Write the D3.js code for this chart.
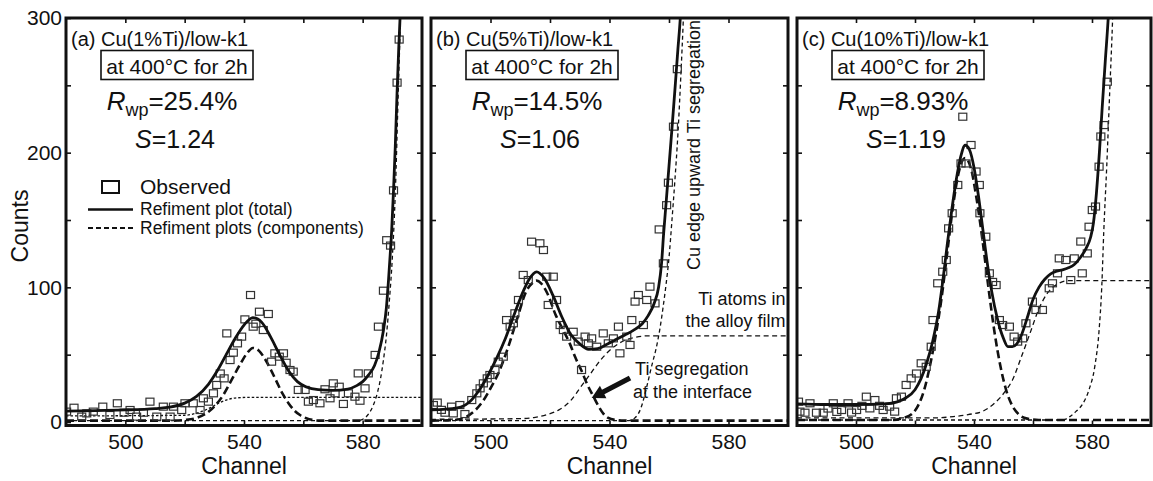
<!DOCTYPE html>
<html><head><meta charset="utf-8">
<script src="https://cdn.jsdelivr.net/npm/d3@7"></script>
<style>
body{margin:0;background:#fff}
svg{display:block}
text{font-family:"Liberation Sans",Arial,Helvetica,sans-serif;fill:#111}
</style>
</head><body>
<svg id="chart" width="1153" height="481"></svg>
<script>
// ---------------- data ----------------
const panelTitles = ["(a) Cu(1%Ti)/low-k1", "(b) Cu(5%Ti)/low-k1", "(c) Cu(10%Ti)/low-k1"];
const conditionLabel = "at 400°C for 2h";
const rwpValues = ["25.4%", "14.5%", "8.93%"];
const sValues = ["1.24", "1.06", "1.19"];
const xTickValues = [500, 520, 540, 560, 580];
const xTickLabels = [500, 540, 580];
const yTickValues = [50, 100, 150, 200, 250];
const yTickLabels = [0, 100, 200, 300];
const legendLabels = ["Observed", "Refiment plot (total)", "Refiment plots (components)"];

// panel (a)
const observedA = [[480.2,7.7],[482.7,10.6],[485.3,4],[487,6.4],[489.2,7.7],[492.4,11.4],[494.8,5.2],[497.3,13.9],[499.6,6.9],[501.6,8.9],[503.8,4],[506.1,6.9],[508.3,15.1],[510.6,4],[512.8,11.4],[515.1,4],[516.2,11.4],[519,8.9],[520.1,13.9],[522.9,13.9],[525.2,8.9],[526.3,17.6],[528,15.1],[529.7,21.3],[530.8,27.5],[532,36],[533.3,32.4],[534.2,65.8],[535.3,46],[536.4,51.5],[537.8,58.4],[539.2,63.4],[540.3,76.2],[542.2,94.3],[543.1,70.8],[544,73],[545.2,81.9],[546.5,68.3],[548.2,80.2],[549.3,44.8],[550.4,51],[551.9,48.5],[553.3,51],[554.2,44],[555.5,38.6],[556.6,37.4],[558.3,23.8],[560.6,23.8],[561.7,15.1],[563.4,16.3],[565.6,13.9],[567.3,24.3],[569,17.6],[570.1,28.7],[570.7,21.3],[572.1,26.2],[573.5,13.4],[575.2,21.3],[577.4,18.8],[578.5,36.1],[579.1,15.8],[580.8,25],[581.9,36.1],[584.2,49.8],[585.3,70.8],[587,97.5],[588.1,135],[589.4,131],[590.4,172],[591.6,252],[592.3,284]];
const totalA = [[480,8],[490,8.5],[500,9],[510,10],[515,11],[520,14],[524,19],[528,28],[531,38],[534,50],[537,62],[540,72],[543,77.5],[546,74],[549,63],[552,50],[555,38],[558,30],[561,26],[565,24],[570,23.5],[575,24.5],[578,27],[580,30],[582,35],[584,42],[585.5,52],[587,68],[588,85],[588.7,105],[589.3,125],[589.8,143],[590.4,172],[591,205],[591.6,245],[592.2,280],[592.7,305],[593,325]];
const peakA = [[480,1],[516,1],[520,1.5],[524,3],[527,6],[530,11.5],[533,20],[536,32],[539,44],[541,51],[543,55],[545,53],[547,47],[549,39],[551,30],[553,21],[555,14],[557,8.5],[559,5],[561,2.8],[563,1.6],[566,1],[600,1]];
const stepA = [[480,4.5],[520,5],[523,6],[526,8],[529,11],[532,14.5],[535,17],[538,18],[542,18.3],[600,18.3]];
const edgeA = [[480,1],[578,1],[580,2],[582,6],[583.5,12],[585,22],[586,32],[587,46],[588,64],[589,90],[590,122],[591,170],[592,245],[592.6,290],[593,325]];

// panel (b)
const observedB = [[480.8,12.6],[482.1,14.4],[483.5,9],[484.7,6.9],[486.9,11.4],[487.5,6.4],[489.7,12.6],[491.4,5.9],[493.7,16.3],[495.4,21.3],[496.5,25],[497.6,28.7],[498.9,32.4],[499.8,34.9],[501.5,38.6],[502.6,44.8],[504.3,48.5],[505.4,75.7],[506.6,70.8],[507.7,73.3],[508.2,80.7],[509.4,90.6],[511,109.2],[512.7,105.4],[513.8,133.9],[516.6,132.7],[517.8,127.7],[518.9,107.9],[521.1,107.9],[519.4,86.9],[522.2,90.6],[523.4,72],[524.5,68.3],[525.6,63.4],[527.8,67],[529.5,59.7],[530.6,38.6],[531.8,63.4],[532.9,58.4],[534,62.1],[535.7,55.9],[537.9,65.8],[539.6,58.4],[541.3,62.1],[543,70.8],[543.5,51],[545.8,63.4],[546.9,57.2],[547.5,75.7],[548.6,89.4],[549.7,94.3],[551.4,72],[552.5,90.6],[553.6,100.5],[555.3,88.1],[556.7,143],[558.1,117.8],[559.2,161],[559.8,177.7],[561.5,219.3],[562.8,262]];
const totalB = [[480,9],[485,9.5],[490,11],[493,15],[496,23],[499,34],[502,47],[505,62],[508,80],[511,97],[513,106],[515.5,111.5],[518,107],[521,94],[524,78],[527,65],[530,58],[533,54],[536,54.5],[539,57.5],[542,61],[545,64.5],[548,68],[551,73],[553,79],[555,88],[556.5,100],[557.5,118],[558.2,140],[559,162],[560,190],[561,218],[562,247],[563,277],[563.8,300],[564.3,320]];
const peakB = [[480,1],[488,1.5],[492,4],[495,9],[497.6,16],[500,25],[503,38],[506,56],[509,77],[512,97],[514,103],[515.5,105],[517,103],[519,96],[522,79],[524.5,68],[526.7,58],[528.5,48],[530.6,38],[532.5,28],[534.6,19],[536.5,11],[538,6],[539.6,3],[542,1.5],[545,1],[600,1]];
const stepB = [[480,2],[510,2.5],[515,3.5],[519,5.5],[523,9],[527,16],[530,25],[533,34],[537,46],[541,55],[545,60.5],[549,63],[553,64],[600,64]];
const edgeB = [[480,1],[546,1],[548.5,3],[550.5,10],[552.5,26],[554,40],[556,58],[557,70],[558,85],[559,102],[560,122],[561,150],[562,180],[563,214],[564,258],[564.8,298],[565.2,320]];

// panel (c)
const observedC = [[480.5,15.1],[481,7.7],[482.7,6.9],[484.4,13.9],[486.6,6.9],[488.9,6.9],[490.5,10],[492.3,13.9],[493.5,7.5],[495.1,8.9],[497.3,13.9],[498.5,7],[500.2,8.9],[502,12],[503.5,18.8],[504.7,10.1],[506.4,16.3],[508,12],[509.2,8.9],[511.4,11.4],[513.1,7.7],[513.7,17.6],[515.4,18.8],[517,27.5],[518.7,32.4],[520.5,36],[522.1,43.6],[523.8,41],[525.5,55.9],[526.1,75.7],[527.7,103],[529.4,111.6],[530.6,120.3],[531.4,143.8],[532.6,155],[534.5,176],[535.6,192],[536.2,226.7],[537.3,192],[539,205.7],[540.7,186],[541.8,176],[542,155],[544,137.6],[545.2,110.4],[546.3,104],[547.5,101.7],[548.6,75.7],[549.7,72],[552,70.8],[553.6,63.4],[554.8,59.7],[556.5,62.1],[557.6,73.3],[559.8,89.4],[561,83.2],[563.2,83.2],[565.5,99.3],[566.6,103],[568.3,110.4],[568.9,121.5],[571.1,120.3],[572.8,105.4],[574,121.5],[576.7,110.4],[576.2,134],[578.4,125.2],[579,145],[580.1,157.4],[581.2,160],[582.4,189.6],[583,212],[584.1,220.5],[585.2,252.7]];
const totalC = [[480,13.5],[490,13],[500,13],[510,13.5],[514,15],[517,18],[520,24],[522,32],[524,44],[526,60],[528,82],[529.5,106],[531,133],[532.5,158],[534,180],[535.5,197],[537,205.5],[538.5,202],[540,189],[541.5,168],[543,143],[544.5,118],[546,97],[548,76],[550,62],[551.5,56],[553,56],[554.5,58],[556,64],[558,77],[560,91],[562,100],[564,106],[566,110],[568,112],[570,113],[572,114.5],[574,117],[576,122],[578,129],[579.5,137],[580.5,148],[581.5,170],[582.5,200],[583.5,235],[584.5,268],[585.5,300],[586,320]];
const peakC = [[480,1.5],[512,1.5],[516,3],[519,6],[521,12],[523,23],[525,41],[527,64],[529,92],[531,127],[533,162],[535,187],[537,196],[539,188],[541,164],[543,133],[545,98],[547,66],[549,41],[551,23],[553,12],[555,6],[558,2.5],[562,1.5],[600,1.5]];
const stepC = [[480,3],[525,3],[533,4],[538,5.5],[543,8],[547,14],[551,24],[553,31],[556,48],[559,66],[562,84],[565,96],[568,102],[572,105],[600,105]];
const edgeC = [[480,1.5],[570,1.5],[572.5,4],[574.5,7.7],[577,14],[579,24],[581,42],[582.4,68],[583.3,100],[584,142],[585,190],[586,245],[587,300],[587.3,320]];

const observedSets = [observedA, observedB, observedC];
const totalSets = [totalA, totalB, totalC];
const peakSets = [peakA, peakB, peakC];
const stepSets = [stepA, stepB, stepC];
const edgeSets = [edgeA, edgeB, edgeC];

// annotations of panel (b), in data units
const arrowB = {from: [546.9, 32.7], to: [534, 17.8]};
const annotB = [
  {t: "Ti atoms in", ch: 599.2, v: 86.6, anchor: "end"},
  {t: "the alloy film", ch: 599.2, v: 70.3, anchor: "end"},
  {t: "Ti segregation", ch: 548.6, v: 34.9, anchor: "start"},
  {t: "at the interface", ch: 547.9, v: 17.8, anchor: "start"}
];
const vertAnnot = {t: "Cu edge upward Ti segregation", ch: 570.3, v: 112.8};

// ---------------- layout ----------------
const svg = d3.select("#chart");
const panelPx = [[66, 422], [431, 788], [797, 1151]];
const yTop = 18, yBot = 425.5;
const y = d3.scaleLinear().domain([-2.6, 300]).range([yBot, yTop]);
const ink = "#111";

svg.append("text").attr("transform", "translate(28,226) rotate(-90)")
  .attr("text-anchor", "middle").style("font-size", "23px").text("Counts");

panelPx.forEach((px, i) => {
  const x = d3.scaleLinear().domain([480, 600]).range(px);
  const g = svg.append("g");
  const clipId = "clip" + i;
  svg.append("clipPath").attr("id", clipId).append("rect")
    .attr("x", px[0]).attr("y", yTop).attr("width", px[1] - px[0]).attr("height", yBot - yTop);
  const plot = g.append("g").attr("clip-path", `url(#${clipId})`);
  const line = d3.line().x(d => x(d[0])).y(d => y(d[1])).curve(d3.curveMonotoneX);

  // components
  plot.append("path").attr("d", line(edgeSets[i])).attr("fill", "none")
    .attr("stroke", ink).attr("stroke-width", 1.3).attr("stroke-dasharray", "4,3");
  plot.append("path").attr("d", line(stepSets[i])).attr("fill", "none")
    .attr("stroke", ink).attr("stroke-width", 1.3).attr("stroke-dasharray", i === 0 ? "2.5,2" : "5,3.5");
  plot.append("path").attr("d", line(peakSets[i])).attr("fill", "none")
    .attr("stroke", ink).attr("stroke-width", 2.6).attr("stroke-dasharray", "8,4");
  // observed
  plot.selectAll("rect.obs").data(observedSets[i]).enter().append("rect")
    .attr("class", "obs")
    .attr("x", d => x(d[0]) - 4).attr("y", d => y(d[1]) - 3.5)
    .attr("width", 8).attr("height", 7)
    .attr("fill", "none").attr("stroke", "#333").attr("stroke-width", 1.2);
  // total
  plot.append("path").attr("d", line(totalSets[i])).attr("fill", "none")
    .attr("stroke", ink).attr("stroke-width", 2.8);

  // frame
  g.append("rect").attr("x", px[0]).attr("y", yTop).attr("width", px[1] - px[0]).attr("height", yBot - yTop)
    .attr("fill", "none").attr("stroke", ink).attr("stroke-width", 3);

  // ticks (inward)
  const axB = d3.axisBottom(x).tickValues(xTickValues).tickSize(-5).tickPadding(9)
    .tickFormat(d => xTickLabels.includes(d) ? d : "");
  const gb = g.append("g").attr("transform", `translate(0,${yBot})`).call(axB);
  gb.select(".domain").remove();
  gb.selectAll("line").attr("stroke", ink).attr("stroke-width", 1.6);
  gb.selectAll("text").style("font-size", "21px").attr("fill", ink);
  const axT = d3.axisTop(x).tickValues(xTickValues).tickSize(-5).tickFormat("");
  const gt = g.append("g").attr("transform", `translate(0,${yTop})`).call(axT);
  gt.select(".domain").remove();
  gt.selectAll("line").attr("stroke", ink).attr("stroke-width", 1.6);
  const axL = d3.axisLeft(y).tickValues(i === 0 ? [0, 50, 100, 150, 200, 250, 300] : yTickValues)
    .tickSize(-5).tickPadding(4).tickFormat(d => (i === 0 && yTickLabels.includes(d)) ? d : "");
  const gl = g.append("g").attr("transform", `translate(${px[0]},0)`).call(axL);
  gl.select(".domain").remove();
  gl.selectAll("line").attr("stroke", ink).attr("stroke-width", 1.6);
  gl.selectAll("text").style("font-size", "21px").attr("fill", ink);
  const axR = d3.axisRight(y).tickValues(yTickValues).tickSize(-5).tickFormat("");
  const gr = g.append("g").attr("transform", `translate(${px[1]},0)`).call(axR);
  gr.select(".domain").remove();
  gr.selectAll("line").attr("stroke", ink).attr("stroke-width", 1.6);

  // axis title
  g.append("text").attr("x", (px[0] + px[1]) / 2).attr("y", 474).attr("text-anchor", "middle")
    .style("font-size", "23px").text("Channel");

  // header texts
  const L = px[0];
  g.append("text").attr("x", L + 5).attr("y", 45.5).style("font-size", "20px").text(panelTitles[i]);
  g.append("rect").attr("x", L + 35).attr("y", 50.5).attr("width", 152).attr("height", 29)
    .attr("fill", "none").attr("stroke", ink).attr("stroke-width", 1.6);
  g.append("text").attr("x", L + 111).attr("y", 73.5).attr("text-anchor", "middle")
    .style("font-size", "21px").text(conditionLabel);
  const r = g.append("text").attr("x", L + 106).attr("y", 110).attr("text-anchor", "middle").style("font-size", "26px");
  r.append("tspan").style("font-style", "italic").text("R");
  r.append("tspan").attr("dy", 6).style("font-size", "18px").text("wp");
  r.append("tspan").attr("dy", -6).text("=" + rwpValues[i]);
  const s = g.append("text").attr("x", L + 109).attr("y", 148).attr("text-anchor", "middle").style("font-size", "25px");
  s.append("tspan").style("font-style", "italic").text("S");
  s.append("tspan").text("=" + sValues[i]);

  if (i === 0) {
    // legend
    g.append("rect").attr("x", L + 36).attr("y", 181).attr("width", 17).attr("height", 12)
      .attr("fill", "none").attr("stroke", ink).attr("stroke-width", 2);
    g.append("text").attr("x", L + 74).attr("y", 193.5).style("font-size", "21px").text(legendLabels[0]);
    g.append("line").attr("x1", L + 22).attr("x2", L + 67).attr("y1", 209.5).attr("y2", 209.5)
      .attr("stroke", ink).attr("stroke-width", 2.4);
    g.append("text").attr("x", L + 74).attr("y", 214.5).style("font-size", "17.5px").text(legendLabels[1]);
    g.append("line").attr("x1", L + 22).attr("x2", L + 67).attr("y1", 228).attr("y2", 228)
      .attr("stroke", ink).attr("stroke-width", 1.8).attr("stroke-dasharray", "5,3");
    g.append("text").attr("x", L + 74).attr("y", 233.5).style("font-size", "17.5px").text(legendLabels[2]);
  }
  if (i === 1) {
    annotB.forEach(a => {
      g.append("text").attr("x", x(a.ch)).attr("y", y(a.v)).attr("text-anchor", a.anchor)
        .style("font-size", "18px").text(a.t);
    });
    g.append("text").attr("transform", `translate(${x(vertAnnot.ch)},${y(vertAnnot.v)}) rotate(-90)`)
      .style("font-size", "18px").text(vertAnnot.t);
    // arrow
    const p0 = [x(arrowB.from[0]), y(arrowB.from[1])];
    const p1 = [x(arrowB.to[0]), y(arrowB.to[1])];
    const dx = p1[0] - p0[0], dy = p1[1] - p0[1];
    const len = Math.hypot(dx, dy), ux = dx / len, uy = dy / len;
    const nx = -uy, ny = ux;
    const headL = 13, headW = 7, shaftW = 2.6;
    const b = [p1[0] - ux * headL, p1[1] - uy * headL];
    const pts = [
      [p0[0] + nx * shaftW, p0[1] + ny * shaftW],
      [b[0] + nx * shaftW, b[1] + ny * shaftW],
      [b[0] + nx * headW, b[1] + ny * headW],
      p1,
      [b[0] - nx * headW, b[1] - ny * headW],
      [b[0] - nx * shaftW, b[1] - ny * shaftW],
      [p0[0] - nx * shaftW, p0[1] - ny * shaftW]
    ];
    g.append("path").attr("d", "M" + pts.map(p => p.join(",")).join("L") + "Z").attr("fill", ink);
  }
});
</script>
</body></html>
